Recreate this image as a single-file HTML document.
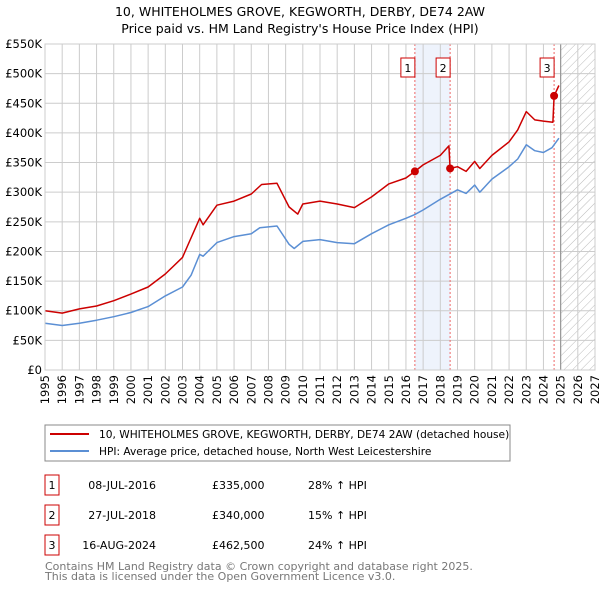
<!DOCTYPE html>
<html><head><meta charset="utf-8"><style>
body{margin:0;background:#fff;}
svg text{font-family:"DejaVu Sans","Liberation Sans",sans-serif;}
</style></head><body>
<svg id="c" width="600" height="590" xmlns="http://www.w3.org/2000/svg">
<defs><pattern id="hatch" width="6" height="6" patternUnits="userSpaceOnUse" patternTransform="rotate(45)"><line x1="0" y1="0" x2="0" y2="6" stroke="#bbb" stroke-width="1"/></pattern></defs>
<text x="300" y="16" text-anchor="middle" font-size="12.5" fill="#000">10, WHITEHOLMES GROVE, KEGWORTH, DERBY, DE74 2AW</text>
<text x="300" y="33" text-anchor="middle" font-size="12.5" fill="#000">Price paid vs. HM Land Registry's House Price Index (HPI)</text>
<g id="plot"></g>
<g>
<rect x="45" y="425" width="465" height="36" fill="#fff" stroke="#888" stroke-width="1"/>
<line x1="50" y1="434" x2="89" y2="434" stroke="#cc0000" stroke-width="2"/>
<text x="99" y="438" font-size="10.6">10, WHITEHOLMES GROVE, KEGWORTH, DERBY, DE74 2AW (detached house)</text>
<line x1="50" y1="451" x2="89" y2="451" stroke="#5b8fd4" stroke-width="2"/>
<text x="99" y="455" font-size="10.6">HPI: Average price, detached house, North West Leicestershire</text>
</g>
<g id="table" font-size="11"></g>
<text x="45" y="570" font-size="11" fill="#777">Contains HM Land Registry data © Crown copyright and database right 2025.</text>
<text x="45" y="580" font-size="11" fill="#777">This data is licensed under the Open Government Licence v3.0.</text>
</svg>
<script>
const hpiYears=[1995,1996,1997,1998,1999,2000,2001,2002,2003,2003.5,2004,2004.2,2005,2006,2007,2007.5,2008.5,2009.2,2009.5,2010,2011,2012,2013,2014,2015,2016,2016.5,2017,2018,2019,2019.5,2020,2020.3,2021,2022,2022.5,2023,2023.5,2024,2024.5,2024.9];
const hpiValues=[79,75,79,84,90,97,107,125,140,160,195,192,215,225,230,240,243,212,205,217,220,215,213,230,245,256,262,270,288,304,298,312,300,322,343,356,380,370,367,375,391];
const redYears=[1995,1996,1997,1998,1999,2000,2001,2002,2003,2003.3,2004,2004.2,2005,2006,2007,2007.6,2008.5,2009.2,2009.7,2010,2011,2012,2013,2014,2015,2016,2016.52,2017,2018,2018.5,2018.57,2019,2019.5,2020,2020.3,2021,2022,2022.5,2023,2023.5,2024,2024.55,2024.62,2024.9];
const redValues=[100,96,103,108,117,128,140,162,190,210,256,245,278,285,297,313,315,275,263,280,285,280,274,292,314,324,335,346,362,378,340,343,335,352,340,362,385,405,436,422,420,418,462.5,480];
const saleYears=[2016.52,2018.57,2024.62];
const saleValues=[335,340,462.5];
const saleLabels=["1","2","3"];
const saleDates=["08-JUL-2016","27-JUL-2018","16-AUG-2024"];
const salePrices=["£335,000","£340,000","£462,500"];
const saleHpi=["28% ↑ HPI","15% ↑ HPI","24% ↑ HPI"];
const yTicks=[0,50,100,150,200,250,300,350,400,450,500,550];
const yTickLabels=["£0","£50K","£100K","£150K","£200K","£250K","£300K","£350K","£400K","£450K","£500K","£550K"];
const xTicks=[1995,1996,1997,1998,1999,2000,2001,2002,2003,2004,2005,2006,2007,2008,2009,2010,2011,2012,2013,2014,2015,2016,2017,2018,2019,2020,2021,2022,2023,2024,2025,2026,2027];

const X0=45,X1=595,Y0=370,Y1=44;
const xs=y=>X0+(y-1995)/32*(X1-X0);
const ys=v=>Y0-v/550*(Y0-Y1);
const NS="http://www.w3.org/2000/svg";
const plot=document.getElementById('plot');
function mk(tag,attrs,parent){const e=document.createElementNS(NS,tag);for(const k in attrs)e.setAttribute(k,attrs[k]);(parent||plot).appendChild(e);return e;}

let r=mk('rect',{x:xs(saleYears[0]),y:Y1,width:xs(saleYears[1])-xs(saleYears[0]),height:Y0-Y1,fill:'#eef3fc'});


r=mk('rect',{x:xs(2025),y:Y1,width:X1-xs(2025),height:Y0-Y1,fill:'url(#hatch)'});


yTicks.forEach((t,i)=>{
  const l=mk('line',{x1:X0,x2:X1,y1:ys(t),y2:ys(t),stroke:'#ccc','stroke-width':1});
  
  
  const tx=mk('text',{x:X0-3,y:ys(t)+4,'text-anchor':'end','font-size':11.5});
  tx.textContent=yTickLabels[i];
  
  
});
xTicks.forEach(t=>{
  const l=mk('line',{x1:xs(t),x2:xs(t),y1:Y1,y2:Y0,stroke:'#ccc','stroke-width':1});
  
  
  const tx=mk('text',{x:0,y:0,'font-size':11.5,'text-anchor':'end',transform:`translate(${xs(t)+4},${Y0+5}) rotate(-90)`});
  tx.textContent=t;
  
  
});
let nl=mk('line',{x1:xs(2025),x2:xs(2025),y1:Y1,y2:Y0,stroke:'#999','stroke-width':1.2});


saleYears.forEach(s=>{
  const l=mk('line',{x1:xs(s),x2:xs(s),y1:Y1,y2:Y0,stroke:'#e66','stroke-width':1,'stroke-dasharray':'2,2'});
  
  
});
function path(xa,va,color,name){
  const d=xa.map((x,i)=>(i?'L':'M')+xs(x).toFixed(1)+','+ys(va[i]).toFixed(1)).join('');
  const p=mk('path',{d,fill:'none',stroke:color,'stroke-width':1.5,'stroke-linejoin':'round'});
  
  
}
path(hpiYears,hpiValues,'#5b8fd4','hpi-line');
path(redYears,redValues,'#cc0000','property-price-line');
saleYears.forEach((s,i)=>{
  const c=mk('circle',{cx:xs(s),cy:ys(saleValues[i]),r:4,fill:'#cc0000'});
  
  
  const bx=xs(s)-14;
  const b=mk('rect',{x:bx,y:58,width:14,height:19,fill:'#fff',stroke:'#cc0000','stroke-width':1});
  
  
  const t=mk('text',{x:bx+7,y:72,'text-anchor':'middle','font-size':11});
  t.textContent=saleLabels[i];
  
  
});
let ax=mk('rect',{x:X0,y:Y1,width:X1-X0,height:Y0-Y1,fill:'none',stroke:'#ccc','stroke-width':1});



const table=document.getElementById('table');
saleLabels.forEach((lab,i)=>{
  const y=475+i*30;
  const b=mk('rect',{x:45,y:y,width:14,height:20,fill:'#fff',stroke:'#cc0000','stroke-width':1},table);
  
  
  const t=mk('text',{x:52,y:y+14,'text-anchor':'middle'},table);t.textContent=lab;
  
  
  const d=mk('text',{x:156,y:y+14,'text-anchor':'end'},table);d.textContent=saleDates[i];
  
  
  const p=mk('text',{x:212,y:y+14},table);p.textContent=salePrices[i];
  
  
  const h=mk('text',{x:308,y:y+14},table);h.textContent=saleHpi[i];
  
  
});
</script>
</body></html>
